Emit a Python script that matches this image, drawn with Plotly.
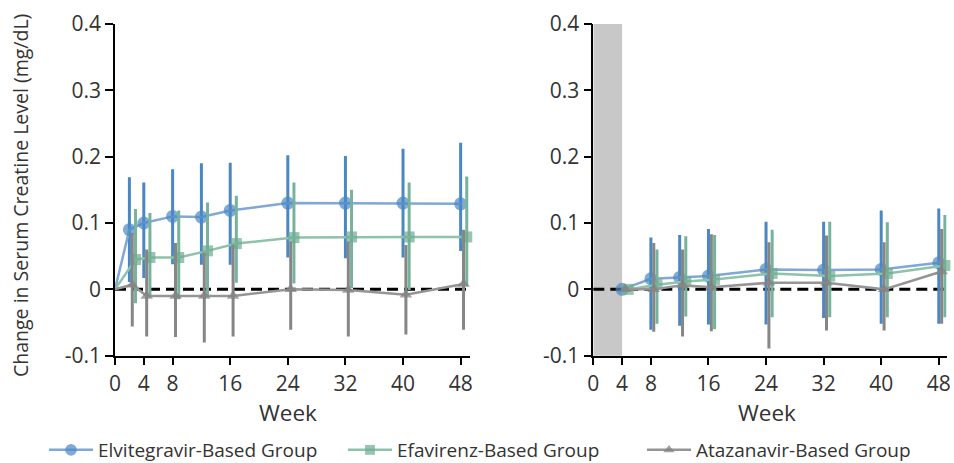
import plotly.graph_objects as go

# ---------------- data ----------------
weeks_left = [0, 2, 4, 8, 12, 16, 24, 32, 40, 48]
elv_left = [0, 0.090, 0.100, 0.110, 0.109, 0.119, 0.130, 0.130, 0.130, 0.129]
elv_left_hi = [None, 0.169, 0.161, 0.181, 0.190, 0.191, 0.202, 0.201, 0.212, 0.221]
elv_left_lo = [None, 0.011, 0.017, 0.038, 0.037, 0.037, 0.048, 0.047, 0.048, 0.058]

efa_left = [0, 0.045, 0.048, 0.048, 0.058, 0.069, 0.078, 0.079, 0.079, 0.079]
efa_left_hi = [None, 0.121, 0.115, 0.119, 0.131, 0.141, 0.161, 0.150, 0.161, 0.170]
efa_left_lo = [None, -0.021, -0.010, -0.015, -0.011, 0.010, 0.009, 0.002, -0.001, 0.005]

ata_left = [0, 0.007, -0.010, -0.010, -0.010, -0.010, 0.000, -0.001, -0.008, 0.008]
ata_left_hi = [None, 0.085, 0.060, 0.070, 0.055, 0.067, 0.072, 0.072, 0.067, 0.090]
ata_left_lo = [None, -0.056, -0.071, -0.072, -0.080, -0.071, -0.061, -0.071, -0.068, -0.061]

weeks_right = [4, 8, 12, 16, 24, 32, 40, 48]
elv_right = [0, 0.016, 0.018, 0.020, 0.030, 0.029, 0.030, 0.040]
elv_right_hi = [None, 0.078, 0.082, 0.091, 0.102, 0.102, 0.119, 0.122]
elv_right_lo = [None, -0.061, -0.055, -0.053, -0.053, -0.043, -0.052, -0.052]

efa_right = [0, 0.007, 0.012, 0.015, 0.024, 0.020, 0.024, 0.036]
efa_right_hi = [None, 0.060, 0.080, 0.082, 0.090, 0.102, 0.101, 0.112]
efa_right_lo = [None, -0.052, -0.041, -0.060, -0.042, -0.042, -0.042, -0.042]

ata_right = [0, 0.000, 0.006, 0.003, 0.010, 0.010, 0.000, 0.027]
ata_right_hi = [None, 0.070, 0.060, 0.083, 0.071, 0.081, 0.071, 0.091]
ata_right_lo = [None, -0.064, -0.071, -0.063, -0.089, -0.062, -0.062, -0.052]

x_ticks = [0, 4, 8, 16, 24, 32, 40, 48]
y_ticks = [-0.1, 0, 0.1, 0.2, 0.3, 0.4]
y_ticktext = ["-0.1", "0", "0.1", "0.2", "0.3", "0.4"]

series_names = ["Elvitegravir-Based Group", "Efavirenz-Based Group", "Atazanavir-Based Group"]

# ---------------- style ----------------
FONT = "Open Sans"
TXT = "#333333"
styles = [
    dict(marker="#4a87c3", line="#7fa8d6", err="#4a87c3", symbol="circle", size=13, offset=0.0),
    dict(marker="#6eab91", line="#8fc2ab", err="#76b39a", symbol="square", size=11, offset=0.85),
    dict(marker="#808080", line="#959595", err="#868686", symbol="triangle-up", size=11, offset=0.4),
]


def err_arrays(vals, hi, lo):
    plus = [0 if h is None else h - v for v, h in zip(vals, hi)]
    minus = [0 if l is None else v - l for v, l in zip(vals, lo)]
    return plus, minus


fig = go.Figure()

panels = [
    ("x", "y", weeks_left, [(elv_left, elv_left_hi, elv_left_lo),
                            (efa_left, efa_left_hi, efa_left_lo),
                            (ata_left, ata_left_hi, ata_left_lo)], True),
    ("x2", "y2", weeks_right, [(elv_right, elv_right_hi, elv_right_lo),
                               (efa_right, efa_right_hi, efa_right_lo),
                               (ata_right, ata_right_hi, ata_right_lo)], False),
]

for xa, ya, weeks, data, starts_at_zero in panels:
    for i, (vals, hi, lo) in enumerate(data):
        st = styles[i]
        xs = []
        sizes = []
        for j, w in enumerate(weeks):
            if starts_at_zero and j == 0:
                xs.append(w)
                sizes.append(0)
            else:
                xs.append(w + st["offset"])
                sizes.append(st["size"])
        plus, minus = err_arrays(vals, hi, lo)
        fig.add_trace(go.Scatter(
            x=xs, y=vals, xaxis=xa, yaxis=ya,
            mode="lines+markers",
            name=series_names[i],
            legendgroup=series_names[i],
            showlegend=(xa == "x"),
            line=dict(color=st["line"], width=2.5),
            marker=dict(color=st["marker"], symbol=st["symbol"], size=sizes, line=dict(width=0)),
            error_y=dict(type="data", symmetric=False, array=plus, arrayminus=minus,
                         color=st["err"], thickness=3, width=0),
            cliponaxis=False,
        ))

ydom = [107.3 / 463, 439 / 463]
axis_common = dict(
    showline=True, linecolor="black", linewidth=1.5,
    ticks="outside", ticklen=8, tickcolor="black", tickwidth=1.5,
    showgrid=False, zeroline=False,
    tickfont=dict(family=FONT, size=21, color=TXT),
)

fig.update_layout(
    width=954, height=463,
    margin=dict(l=0, r=0, t=0, b=0, autoexpand=False),
    paper_bgcolor="white", plot_bgcolor="white",
    xaxis=dict(domain=[115 / 954, 470 / 954], range=[0, 49.3], tickvals=x_ticks,
               anchor="y", **axis_common),
    yaxis=dict(domain=ydom, range=[-0.1, 0.4], tickvals=y_ticks, ticktext=y_ticktext,
               anchor="x", **axis_common),
    xaxis2=dict(domain=[593.3 / 954, 946.7 / 954], range=[0, 49.1], tickvals=x_ticks,
                anchor="y2", **axis_common),
    yaxis2=dict(domain=ydom, range=[-0.1, 0.4], tickvals=y_ticks, ticktext=y_ticktext,
                anchor="x2", **axis_common),
    legend=dict(orientation="h", x=44 / 954, xanchor="left", y=13 / 463,
                yanchor="middle", itemwidth=44,
                font=dict(family=FONT, size=19, color=TXT), entrywidth=240,
                bgcolor="rgba(0,0,0,0)"),
    showlegend=True,
)

# shaded first-4-weeks region on right panel
fig.add_shape(type="rect", xref="x2", yref="y2 domain", x0=0, x1=4, y0=0, y1=1,
              fillcolor="#c8c8c8", line=dict(width=0), layer="below")
# dashed zero reference lines
for xr, yr in [("x domain", "y"), ("x2 domain", "y2")]:
    fig.add_shape(type="line", xref=xr, yref=yr, x0=0, x1=1, y0=0, y1=0,
                  line=dict(color="black", width=3, dash="11px,6px"), layer="below")

# titles
fig.add_annotation(text="Change in Serum Creatine Level (mg/dL)", textangle=-90,
                   xref="paper", yref="paper", x=20 / 954, y=(463 - 196) / 463,
                   xanchor="center", yanchor="middle",
                   showarrow=False, font=dict(family=FONT, size=19.5, color=TXT))
for cx in [288, 767]:
    fig.add_annotation(text="Week", xref="paper", yref="paper", x=cx / 954, y=(463 - 412) / 463,
                       xanchor="center", yanchor="middle",
                       showarrow=False, font=dict(family=FONT, size=22.5, color=TXT))

fig.write_html("out.html", config={"displayModeBar": False},
               post_script="document.body.style.margin='0px';")
